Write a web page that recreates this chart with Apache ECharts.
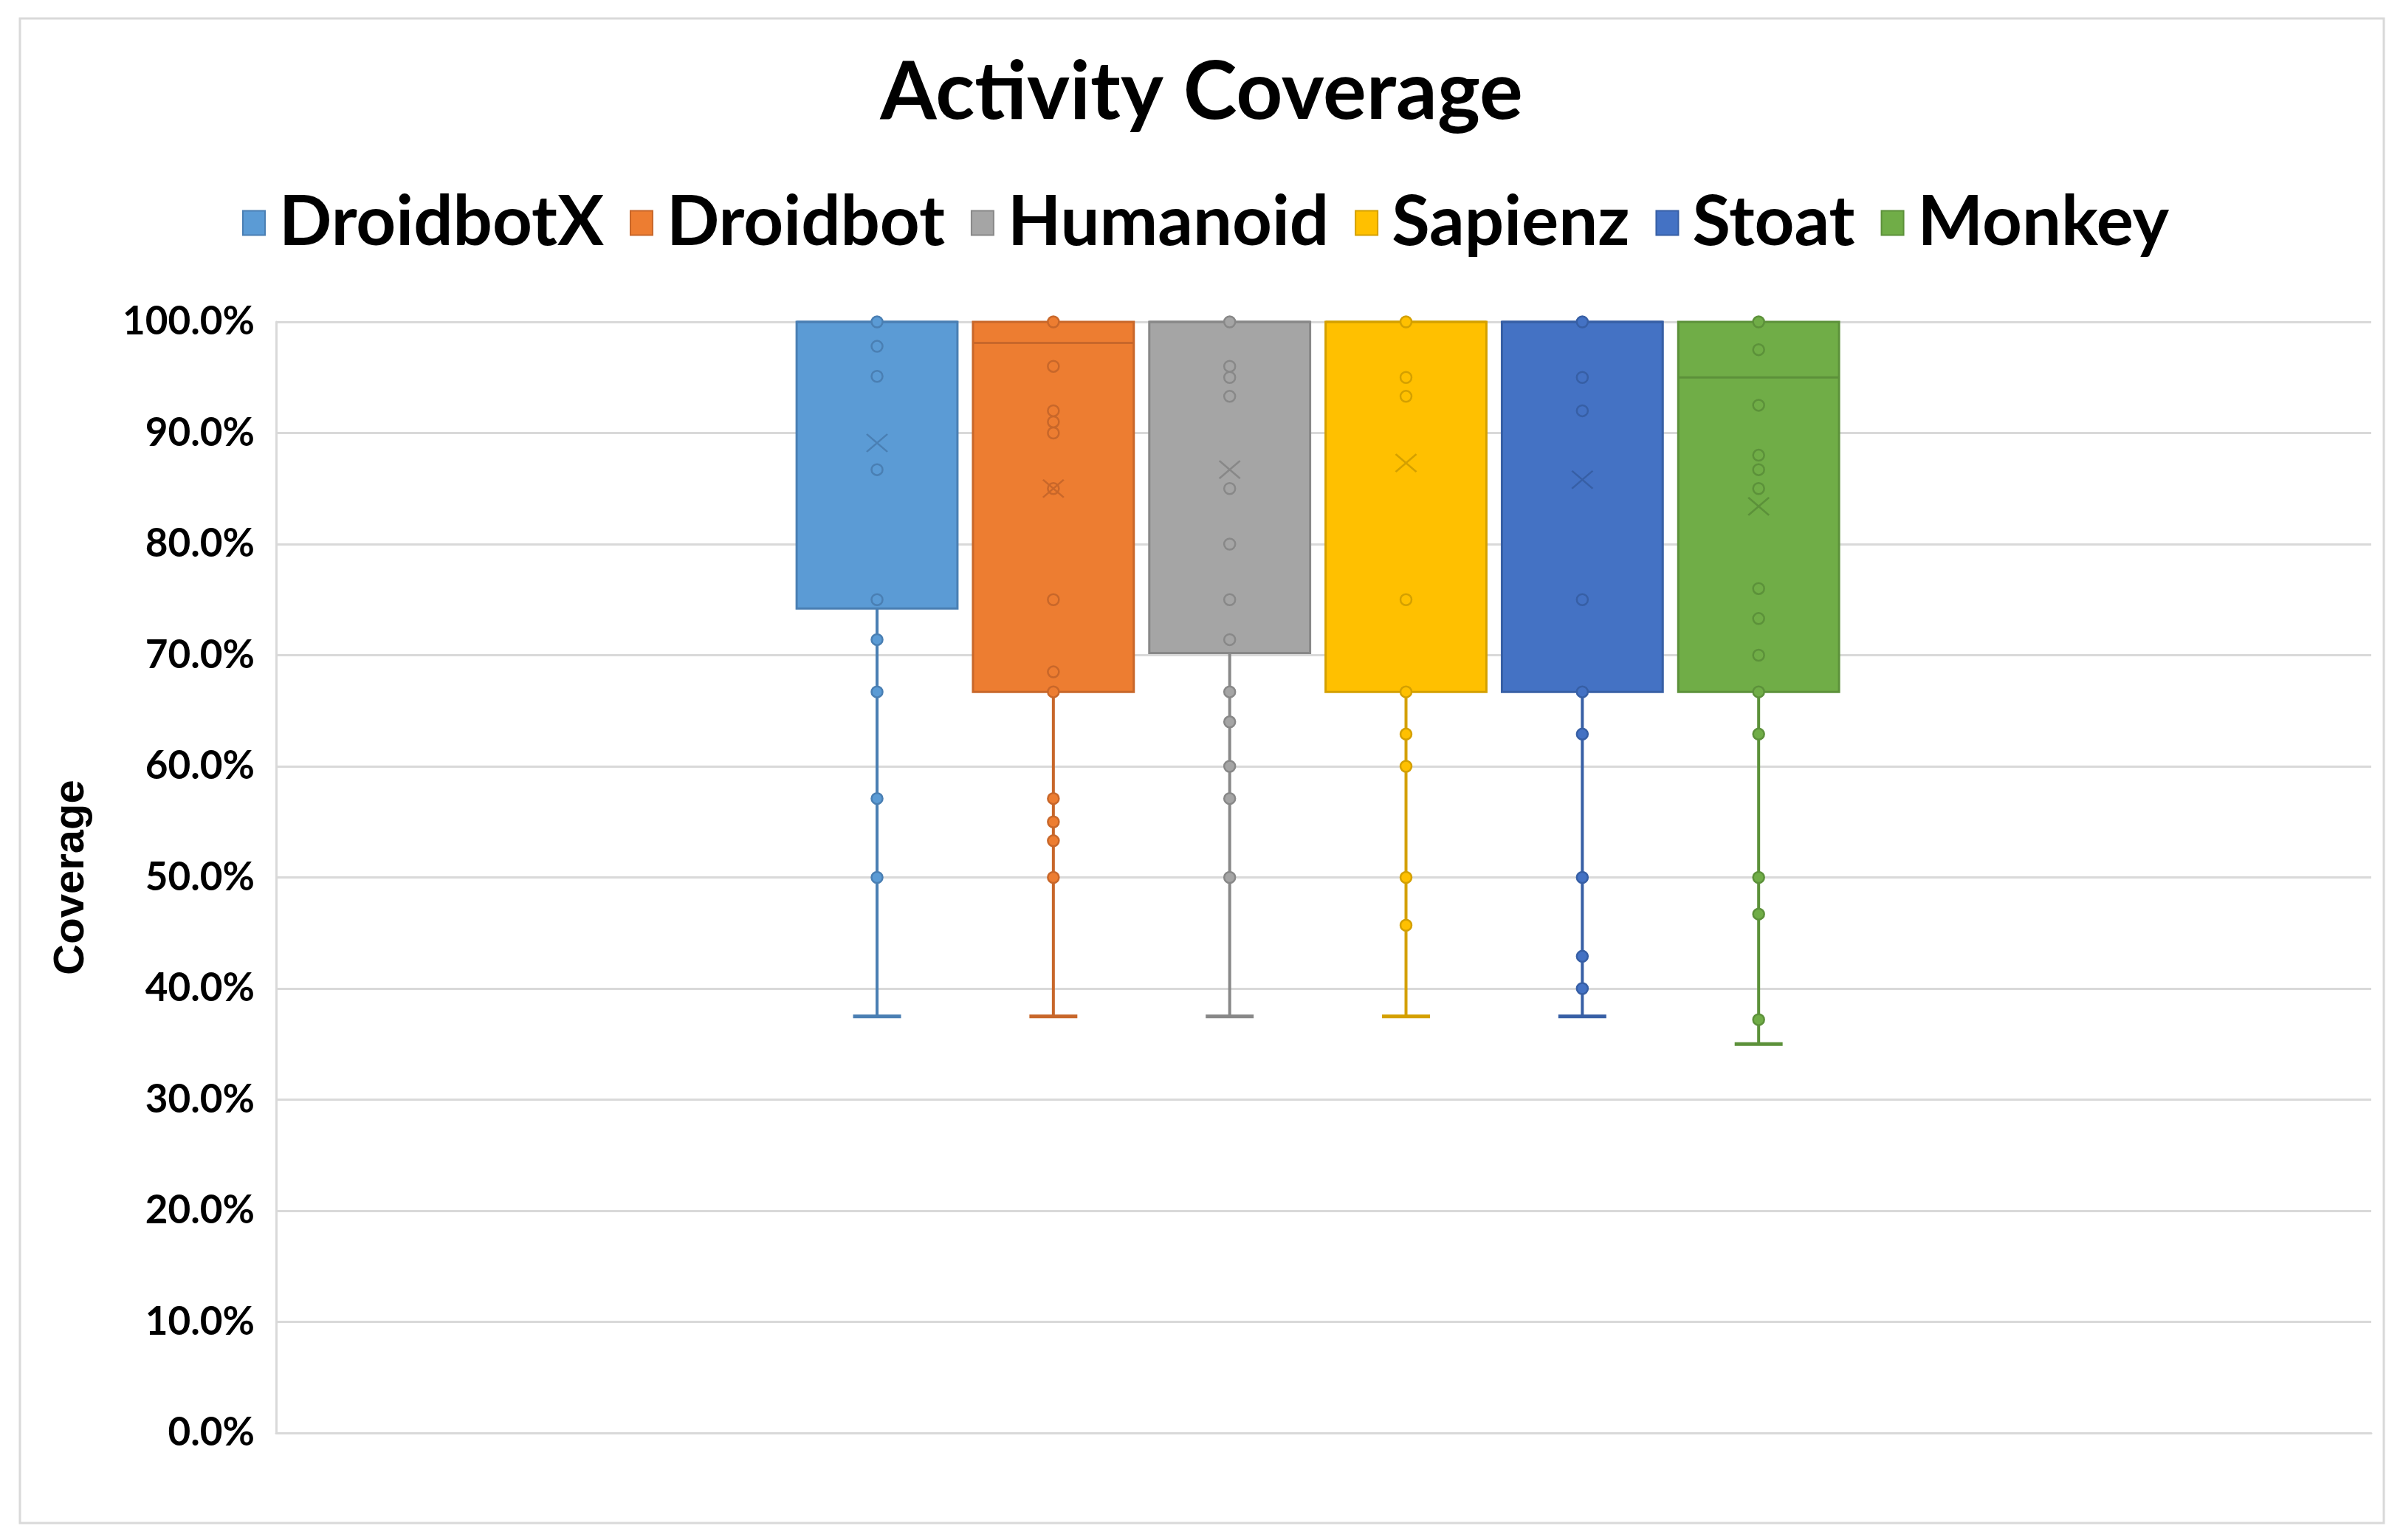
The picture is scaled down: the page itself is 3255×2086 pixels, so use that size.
<!DOCTYPE html>
<html>
<head>
<meta charset="utf-8">
<script src="https://cdn.jsdelivr.net/npm/echarts@6/dist/echarts.min.js"></script>
<style>
html,body{margin:0;padding:0;background:#fff;}
#chart{width:3255px;height:2086px;}
</style>
</head>
<body>
<div id="chart"></div>
<script>
// ---- data (coverage, %) ----
const tools = ['DroidbotX', 'Droidbot', 'Humanoid', 'Sapienz', 'Stoat', 'Monkey'];
const mins    = [37.5, 37.5, 37.5, 37.5, 37.5, 35.0];
const q1s     = [74.2, 66.7, 70.2, 66.7, 66.7, 66.7];
const medians = [100, 98.1, 100, 100, 100, 95.0];
const q3s     = [100, 100, 100, 100, 100, 100];
const maxs    = [100, 100, 100, 100, 100, 100];
const means   = [89.1, 85.0, 86.7, 87.3, 85.8, 83.4];

const pointsDroidbotX = [100, 97.8, 95.1, 86.7, 75.0, 71.4, 66.7, 57.1, 50.0];
const pointsDroidbot  = [100, 96.0, 92.0, 91.0, 90.0, 85.0, 75.0, 68.5, 66.7, 57.1, 55.0, 53.3, 50.0];
const pointsHumanoid  = [100, 96.0, 95.0, 93.3, 85.0, 80.0, 75.0, 71.4, 66.7, 64.0, 60.0, 57.1, 50.0];
const pointsSapienz   = [100, 95.0, 93.3, 75.0, 66.7, 62.9, 60.0, 50.0, 45.7];
const pointsStoat     = [100, 95.0, 92.0, 75.0, 66.7, 62.9, 50.0, 42.9, 40.0];
const pointsMonkey    = [100, 97.5, 92.5, 88.0, 86.7, 85.0, 76.0, 73.3, 70.0, 66.7, 62.9, 50.0, 46.7, 37.2];
const pointsByTool = [pointsDroidbotX, pointsDroidbot, pointsHumanoid, pointsSapienz, pointsStoat, pointsMonkey];

const yTicks = [0, 10, 20, 30, 40, 50, 60, 70, 80, 90, 100];

// ---- styles ----
const fills = ['#5B9BD5', '#ED7D31', '#A5A5A5', '#FFC000', '#4472C4', '#70AD47'];
const darks = ['#4A7FB3', '#C8672A', '#888888', '#D4A000', '#375FA5', '#5C913A'];

const chart = echarts.init(document.getElementById('chart'), null, {renderer: 'canvas'});

const series = [];
tools.forEach((name, i) => {
  series.push({
    type: 'custom',
    name: name,
    xAxisIndex: 1,
    yAxisIndex: 1,
    itemStyle: {color: fills[i], borderColor: darks[i], borderWidth: 2},
    encode: {x: 0, y: [1, 2, 3, 4, 5]},
    data: [[i, mins[i], q1s[i], medians[i], q3s[i], maxs[i]]],
    z: 2,
    renderItem: function (params, api) {
      const idx = api.value(0);
      const band = api.size([1, 0])[0];
      const bw = band * 0.912;
      const cw = band * 0.272;
      const pMin = api.coord([idx, api.value(1)]);
      const pQ1 = api.coord([idx, api.value(2)]);
      const pMed = api.coord([idx, api.value(3)]);
      const pQ3 = api.coord([idx, api.value(4)]);
      const pMax = api.coord([idx, api.value(5)]);
      const cx = pQ1[0];
      const children = [];
      children.push({type: 'line', shape: {x1: cx, y1: pQ1[1], x2: cx, y2: pMin[1]},
        style: {stroke: darks[i], lineWidth: 4}});
      children.push({type: 'line', shape: {x1: cx - cw / 2, y1: pMin[1], x2: cx + cw / 2, y2: pMin[1]},
        style: {stroke: darks[i], lineWidth: 5}});
      if (pMax[1] < pQ3[1] - 0.5) {
        children.push({type: 'line', shape: {x1: cx, y1: pQ3[1], x2: cx, y2: pMax[1]},
          style: {stroke: darks[i], lineWidth: 4}});
        children.push({type: 'line', shape: {x1: cx - cw / 2, y1: pMax[1], x2: cx + cw / 2, y2: pMax[1]},
          style: {stroke: darks[i], lineWidth: 5}});
      }
      children.push({type: 'rect', shape: {x: cx - bw / 2, y: pQ3[1], width: bw, height: pQ1[1] - pQ3[1]},
        style: {fill: fills[i], stroke: darks[i], lineWidth: 3}});
      children.push({type: 'line', shape: {x1: cx - bw / 2, y1: pMed[1], x2: cx + bw / 2, y2: pMed[1]},
        style: {stroke: darks[i], lineWidth: 3}});
      return {type: 'group', children: children};
    }
  });
});
tools.forEach((name, i) => {
  series.push({
    type: 'scatter',
    name: name,
    xAxisIndex: 1,
    yAxisIndex: 1,
    symbol: 'circle',
    symbolSize: 15,
    z: 5,
    itemStyle: {color: fills[i], borderColor: darks[i], borderWidth: 2.5, opacity: 1},
    data: pointsByTool[i].map(v => [i, v])
  });
});
tools.forEach((name, i) => {
  series.push({
    type: 'scatter',
    name: name,
    xAxisIndex: 1,
    yAxisIndex: 1,
    symbol: 'path://M0,0L10,10M10,0L0,10',
    symbolSize: [28, 24],
    z: 6,
    itemStyle: {color: 'rgba(0,0,0,0)', borderColor: darks[i], borderWidth: 2.5, opacity: 1},
    data: [[i, means[i]]]
  });
});

const option = {
  backgroundColor: '#ffffff',
  animation: false,
  title: {
    text: 'Activity Coverage',
    left: 'center',
    top: 66,
    textStyle: {fontFamily: 'Lato', fontWeight: 'bold', fontSize: 110, color: '#000'}
  },
  legend: {
    data: tools.map((t, i) => ({name: t, icon: 'rect',
      itemStyle: {color: fills[i], borderColor: darks[i], borderWidth: 2}})),
    left: 323,
    top: 250,
    itemWidth: 30,
    itemHeight: 33,
    itemGap: 35,
    selectedMode: false,
    textStyle: {fontFamily: 'Lato', fontWeight: 'bold', fontSize: 94, color: '#000', padding: [0, 0, 0, 14]}
  },
  graphic: [{
    type: 'rect',
    shape: {x: 27, y: 25, width: 3202, height: 2038},
    style: {fill: 'none', stroke: '#d9d9d9', lineWidth: 3},
    silent: true
  }],
  grid: [
    {left: 374, right: 43, top: 436, bottom: 145},
    {left: 1068.6, width: 1433, top: 436, bottom: 145}
  ],
  xAxis: [
    {type: 'category', gridIndex: 0, data: [''], axisLine: {show: true, lineStyle: {color: '#d9d9d9', width: 3}},
      axisTick: {show: false}, axisLabel: {show: false}, splitLine: {show: false}},
    {type: 'category', gridIndex: 1, data: tools, show: false}
  ],
  yAxis: [
    {type: 'value', gridIndex: 0, min: yTicks[0], max: yTicks[yTicks.length - 1], interval: 10,
      name: 'Coverage', nameLocation: 'middle', nameGap: 248,
      nameTextStyle: {fontFamily: 'Liberation Sans', fontWeight: 'bold', fontSize: 58, color: '#000'},
      axisLine: {show: true, lineStyle: {color: '#d9d9d9', width: 3}},
      axisTick: {show: false},
      axisLabel: {margin: 29, fontFamily: 'Lato', fontWeight: 'bold', fontSize: 53, color: '#000',
        formatter: v => v.toFixed(1) + '%'},
      splitLine: {show: true, lineStyle: {color: '#d9d9d9', width: 3}}},
    {type: 'value', gridIndex: 1, min: yTicks[0], max: yTicks[yTicks.length - 1], interval: 10, show: false,
      splitLine: {show: false}}
  ],
  series: series
};
chart.setOption(option);
</script>
</body>
</html>
